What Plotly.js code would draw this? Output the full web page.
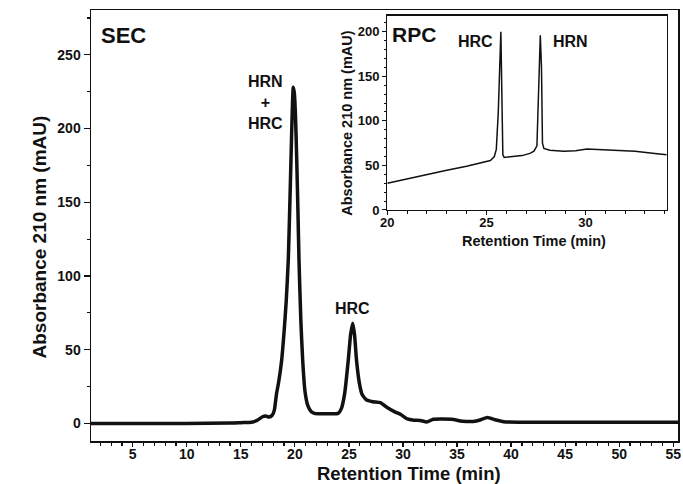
<!DOCTYPE html>
<html>
<head>
<meta charset="utf-8">
<script src="https://cdn.plot.ly/plotly-3.0.1.min.js"></script>
<style>html,body{margin:0;padding:0;background:#fff;}#chart{width:683px;height:484px;}</style>
</head>
<body>
<div id="chart"></div>
<script>
// SEC chromatogram (main plot)
const secTime = [1.14, 5, 10, 14, 15, 16, 16.5, 17.0, 17.3, 17.6, 17.9, 18.1, 18.3, 18.5, 18.78, 19.0, 19.2, 19.39, 19.52, 19.64, 19.75, 19.85, 19.95, 20.05, 20.17, 20.28, 20.38, 20.55, 20.72, 20.93, 21.2, 21.5, 21.8, 22.5, 23.3, 24.0, 24.3, 24.6, 24.94, 25.15, 25.35, 25.52, 25.7, 25.95, 26.2, 26.6, 27.2, 27.9, 28.5, 29.2, 29.8, 30.4, 31.0, 31.6, 32.2, 32.8, 33.5, 34.5, 35.5, 36.5, 37.2, 37.8, 38.5, 39.5, 41, 45, 50, 55.44];
const secAbs  = [0, 0, 0, 0.2, 0.5, 0.8, 2, 4.5, 5, 4.3, 5.5, 9, 20, 28, 43, 62, 83, 111, 145, 179, 210, 228, 224, 210, 179, 145, 111, 70, 43, 22, 12, 8, 6.8, 6.5, 6.5, 6.8, 10, 20, 43, 60, 68, 60, 43, 28, 20, 16, 14.7, 14, 11, 8, 6, 3, 2.2, 2, 1, 2.8, 3, 2.8, 1.5, 1.3, 2.5, 4, 2.5, 1, 0.8, 0.7, 0.8, 0.7];

// RPC chromatogram (inset)
const rpcTime = [20, 21, 22, 23, 24, 25, 25.2, 25.4, 25.5, 25.6, 25.68, 25.73, 25.78, 25.83, 25.9, 26.2, 26.8, 27.2, 27.4, 27.55, 27.63, 27.72, 27.78, 27.83, 27.9, 28.2, 28.9, 29.5, 30.07, 30.5, 31.5, 32.5, 33.5, 34.1];
const rpcAbs  = [30, 35, 40, 44.5, 49, 54, 55.5, 60, 68, 110, 180, 200, 130, 62, 59, 59.5, 61, 63.5, 66, 72, 120, 196, 160, 75, 69, 67, 66, 66.5, 68.5, 68, 67, 66, 63.5, 62];

// Tick labels
const secXTicks = [5, 10, 15, 20, 25, 30, 35, 40, 45, 50, 55];
const secYTicks = [0, 50, 100, 150, 200, 250];
const rpcXTicks = [20, 25, 30];
const rpcYTicks = [0, 50, 100, 150, 200];

const FONT = 'Liberation Sans, Arial, Helvetica, sans-serif';
const INK = '#111';

const traces = [
  {x: secTime, y: secAbs, type: 'scatter', mode: 'lines', xaxis: 'x', yaxis: 'y',
   line: {color: INK, width: 3.5, shape: 'spline', smoothing: 0.5}, hoverinfo: 'x+y', name: 'SEC'},
  {x: rpcTime, y: rpcAbs, type: 'scatter', mode: 'lines', xaxis: 'x2', yaxis: 'y2',
   line: {color: INK, width: 1.5}, hoverinfo: 'x+y', name: 'RPC'}
];

const axisCommon = {showgrid: false, zeroline: false, showline: true, linecolor: INK, mirror: true, ticks: 'outside', tickcolor: INK};

const layout = {
  width: 683, height: 484,
  margin: {l: 91, r: 5, t: 10, b: 43},
  paper_bgcolor: '#fff', plot_bgcolor: '#fff',
  showlegend: false,
  font: {family: FONT, color: INK, weight: 'bold'},
  xaxis: Object.assign({}, axisCommon, {
    domain: [0, 1], range: [1.14, 55.44], tickmode: 'array', tickvals: secXTicks,
    ticklen: 4, linewidth: 1.5, tickwidth: 1.2, ticklabelstandoff: -4,
    tickfont: {family: FONT, size: 14, color: INK, weight: 'bold'},
    minor: {tickmode: 'linear', tick0: 0, dtick: 1, ticklen: 3, ticks: 'outside', tickcolor: INK}
  }),
  yaxis: Object.assign({}, axisCommon, {
    domain: [0, 1], range: [-11.95, 280.4], tickmode: 'array', tickvals: secYTicks,
    ticklen: 6, linewidth: 1.5, tickwidth: 1.2,
    tickfont: {family: FONT, size: 14, color: INK, weight: 'bold'},
    minor: {tickmode: 'linear', tick0: 0, dtick: 25, ticklen: 3, ticks: 'outside', tickcolor: INK}
  }),
  xaxis2: Object.assign({}, axisCommon, {
    anchor: 'y2', domain: [0.5048, 0.9808], range: [20, 34.1], tickmode: 'array', tickvals: rpcXTicks,
    ticklen: 4, linewidth: 1.2, tickwidth: 1, ticklabelstandoff: -4,
    tickfont: {family: FONT, size: 13, color: INK, weight: 'bold'},
    minor: {tickmode: 'linear', tick0: 0, dtick: 1, ticklen: 2.5, ticks: 'outside', tickcolor: INK}
  }),
  yaxis2: Object.assign({}, axisCommon, {
    anchor: 'x2', domain: [0.536, 0.9868], range: [0, 218], tickmode: 'array', tickvals: rpcYTicks,
    ticklen: 4, linewidth: 1.2, tickwidth: 1,
    tickfont: {family: FONT, size: 13, color: INK, weight: 'bold'},
    minor: {tickmode: 'linear', tick0: 0, dtick: 10, ticklen: 2.5, ticks: 'outside', tickcolor: INK}
  }),
  annotations: [
    // axis titles
    {text: 'Retention Time (min)', xref: 'paper', yref: 'paper', x: 0.5417, y: -0.0765, xanchor: 'center', yanchor: 'middle', showarrow: false,
     font: {family: FONT, size: 18.5, color: INK, weight: 'bold'}},
    {text: 'Absorbance 210 nm (mAU)', xref: 'paper', yref: 'paper', x: -0.0869, y: 0.4745, xanchor: 'center', yanchor: 'middle', textangle: -90, showarrow: false,
     font: {family: FONT, size: 19, color: INK, weight: 'bold'}},
    {text: 'Retention Time (min)', xref: 'paper', yref: 'paper', x: 0.7547, y: 0.4645, xanchor: 'center', yanchor: 'middle', showarrow: false,
     font: {family: FONT, size: 14.5, color: INK, weight: 'bold'}},
    {text: 'Absorbance 210 nm (mAU)', xref: 'paper', yref: 'paper', x: 0.4365, y: 0.7367, xanchor: 'center', yanchor: 'middle', textangle: -90, showarrow: false,
     font: {family: FONT, size: 14.5, color: INK, weight: 'bold'}},
    // panel labels
    {text: 'SEC', xref: 'x', yref: 'y', x: 4.1, y: 263.4, xanchor: 'center', yanchor: 'middle', showarrow: false,
     font: {family: FONT, size: 22, color: INK, weight: 'bold'}},
    {text: 'RPC', xref: 'x2', yref: 'y2', x: 21.35, y: 197.4, xanchor: 'center', yanchor: 'middle', showarrow: false,
     font: {family: FONT, size: 21, color: INK, weight: 'bold'}},
    // peak labels
    {text: 'HRN<br>+<br>HRC', xref: 'x', yref: 'y', x: 17.28, y: 217.8, xanchor: 'center', yanchor: 'middle', showarrow: false, align: 'center',
     font: {family: FONT, size: 16, color: INK, weight: 'bold'}},
    {text: 'HRC', xref: 'x', yref: 'y', x: 25.33, y: 78.0, xanchor: 'center', yanchor: 'middle', showarrow: false,
     font: {family: FONT, size: 16, color: INK, weight: 'bold'}},
    {text: 'HRC', xref: 'x2', yref: 'y2', x: 24.47, y: 188.8, xanchor: 'center', yanchor: 'middle', showarrow: false,
     font: {family: FONT, size: 16, color: INK, weight: 'bold'}},
    {text: 'HRN', xref: 'x2', yref: 'y2', x: 29.23, y: 188.8, xanchor: 'center', yanchor: 'middle', showarrow: false,
     font: {family: FONT, size: 16, color: INK, weight: 'bold'}}
  ]
};

Plotly.newPlot('chart', traces, layout, {staticPlot: true, displayModeBar: false});
</script>
</body>
</html>
